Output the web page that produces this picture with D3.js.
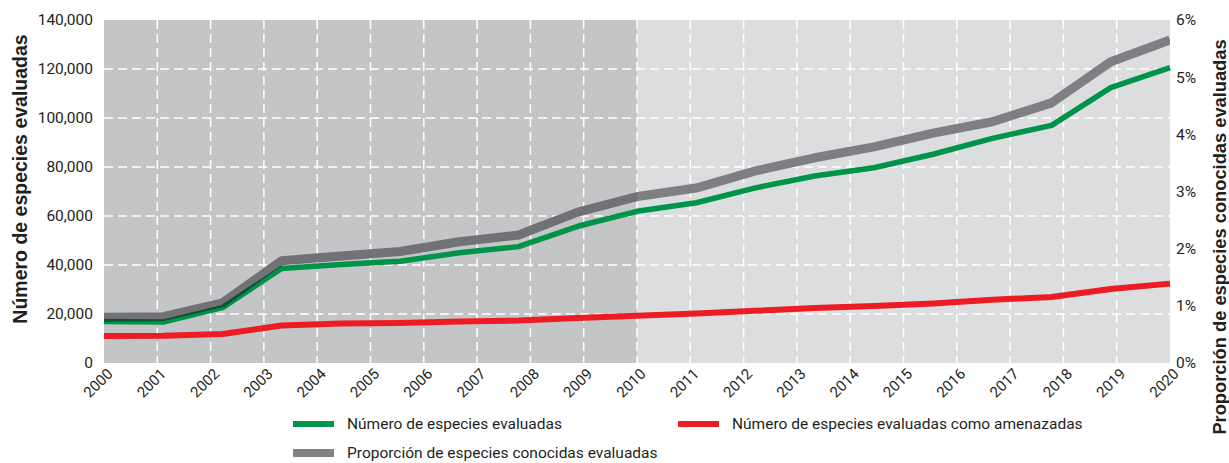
<!DOCTYPE html>
<html>
<head>
<meta charset="utf-8">
<script src="https://cdn.jsdelivr.net/npm/d3@7"></script>
<style>
  html, body { margin: 0; padding: 0; background: #ffffff; }
  svg { display: block; }
  text { fill: #231f20; }
</style>
</head>
<body>
<svg id="chart" width="1229" height="463"></svg>
<script>
// Axis ticks
const years = d3.range(2000, 2021);
const countTicks = [0, 20000, 40000, 60000, 80000, 100000, 120000, 140000];
const pctTicks = [0, 1, 2, 3, 4, 5, 6];

// Red List updates, 2000–2020 (evenly spaced along the time axis)
const updates = d3.range(19);
const assessed = [16900, 16700, 22600, 38600, 40200, 41500, 45000, 47500, 55800, 61900,
                  65400, 71500, 76300, 79700, 85200, 91700, 97000, 112400, 120600];
const threatened = [11000, 11100, 11800, 15300, 16100, 16300, 16900, 17300, 18400, 19300,
                    20200, 21300, 22400, 23300, 24300, 25800, 26900, 30200, 32400];
const proportion = [0.80, 0.81, 1.05, 1.79, 1.87, 1.95, 2.12, 2.24, 2.64, 2.91,
                    3.06, 3.36, 3.59, 3.78, 4.02, 4.22, 4.55, 5.27, 5.65];

// Shaded periods
const periods = [
  { from: 2000, to: 2010, fill: "#c4c5c7" },
  { from: 2010, to: 2020, fill: "#dcdddf" }
];

const legendItems = [
  { label: "Número de especies evaluadas", color: "#00944a", w: 6 },
  { label: "Número de especies evaluadas como amenazadas", color: "#ed1c24", w: 6 },
  { label: "Proporción de especies conocidas evaluadas", color: "#808285", w: 8 }
];

const svg = d3.select("#chart");
const m = { left: 104, right: 1170, top: 20, bottom: 363 };
const tickFont = "Roboto, 'Liberation Sans', sans-serif";
const titleFont = "'Liberation Sans', Arial, sans-serif";

const x = d3.scaleLinear().domain([2000, 2020]).range([m.left, m.right]);
const xs = d3.scalePoint().domain(updates).range([m.left, m.right]);
const y = d3.scaleLinear().domain([0, 140000]).range([m.bottom, m.top]);
const yp = d3.scaleLinear().domain([0, 6]).range([m.bottom, m.top]);

const defs = svg.append("defs");

// Background periods
svg.append("g").selectAll("rect").data(periods).join("rect")
  .attr("x", d => x(d.from)).attr("width", d => x(d.to) - x(d.from))
  .attr("y", m.top).attr("height", m.bottom - m.top)
  .attr("fill", d => d.fill);

periods.forEach((p, i) => {
  defs.append("clipPath").attr("id", "period" + i)
    .append("rect")
    .attr("x", x(p.from)).attr("width", x(p.to) - x(p.from))
    .attr("y", 0).attr("height", 463);
});

// Grid
const grid = svg.append("g")
  .attr("stroke", "#ffffff").attr("stroke-width", 1.5).attr("stroke-dasharray", "9,5");
grid.selectAll("line.v").data(years.filter(d => d > 2000 && d < 2020)).join("line")
  .attr("class", "v")
  .attr("x1", d => x(d)).attr("x2", d => x(d))
  .attr("y1", m.top).attr("y2", m.bottom);
grid.selectAll("line.h").data(countTicks.filter(d => d > 0 && d < 140000)).join("line")
  .attr("class", "h")
  .attr("x1", m.left).attr("x2", m.right)
  .attr("y1", d => y(d)).attr("y2", d => y(d));

// Series
const lineCount = d3.line().x((d, i) => xs(i)).y(d => y(d));
const linePct = d3.line().x((d, i) => xs(i)).y(d => yp(d));

svg.append("path").datum(threatened)
  .attr("d", lineCount).attr("fill", "none")
  .attr("stroke", "#ed1c24").attr("stroke-width", 6).attr("stroke-linejoin", "round");

svg.append("path").datum(assessed)
  .attr("d", lineCount).attr("fill", "none")
  .attr("stroke", "#00944a").attr("stroke-width", 5.5).attr("stroke-linejoin", "round");

// Proportion line: tone follows the shaded period beneath it
const grayTones = ["#717275", "#7e7f82"];
periods.forEach((p, i) => {
  svg.append("path").datum(proportion)
    .attr("d", linePct).attr("fill", "none")
    .attr("clip-path", `url(#period${i})`)
    .attr("stroke", grayTones[i]).attr("stroke-width", 9).attr("stroke-linejoin", "round");
});

// Where the proportion line overlaps the assessed line, the green darkens
const mask = defs.append("mask").attr("id", "grayMask").attr("maskUnits", "userSpaceOnUse")
  .attr("x", 0).attr("y", 0).attr("width", 1229).attr("height", 463);
mask.append("path").datum(proportion)
  .attr("d", linePct).attr("fill", "none")
  .attr("stroke", "#ffffff").attr("stroke-width", 9).attr("stroke-linejoin", "round");
svg.append("path").datum(assessed)
  .attr("d", lineCount).attr("fill", "none")
  .attr("mask", "url(#grayMask)")
  .attr("stroke", "#0a5530").attr("stroke-width", 5.5).attr("stroke-linejoin", "round");

// Left axis
const fmt = d3.format(",");
svg.append("g").selectAll("text").data(countTicks).join("text")
  .attr("x", 93).attr("y", d => y(d))
  .attr("dy", "0.35em").attr("text-anchor", "end")
  .style("font-family", tickFont).style("font-size", "15.5px")
  .text(d => fmt(d));

// Right axis
svg.append("g").selectAll("text").data(pctTicks).join("text")
  .attr("x", 1176).attr("y", d => yp(d))
  .attr("dy", "0.35em").attr("text-anchor", "start")
  .style("font-family", tickFont).style("font-size", "15.5px")
  .text(d => d + "%");

// Year labels
svg.append("g").selectAll("text").data(years).join("text")
  .attr("transform", d => `translate(${x(d) + 6},${m.bottom + 8}) rotate(-45)`)
  .attr("text-anchor", "end").attr("dy", "0.35em")
  .style("font-family", tickFont).style("font-size", "15px")
  .text(d => d);

// Axis titles
svg.append("text")
  .attr("transform", `translate(27,179) rotate(-90)`)
  .attr("text-anchor", "middle")
  .style("font-family", titleFont).style("font-size", "19.5px").style("font-weight", "bold")
  .text("Número de especies evaluadas");

svg.append("text")
  .attr("transform", `translate(1226,237) rotate(-90)`)
  .attr("text-anchor", "middle")
  .style("font-family", titleFont).style("font-size", "18.3px").style("font-weight", "bold")
  .text("Proporción de especies conocidas evaluadas");

// Legend
const legendPos = [[293, 424], [678, 424], [293, 453]];
const lg = svg.append("g").selectAll("g").data(legendItems).join("g")
  .attr("transform", (d, i) => `translate(${legendPos[i][0]},${legendPos[i][1]})`);
lg.append("line")
  .attr("x1", 0).attr("x2", 41).attr("y1", 0).attr("y2", 0)
  .attr("stroke", d => d.color).attr("stroke-width", d => d.w);
lg.append("text")
  .attr("x", 54).attr("y", 0).attr("dy", "0.35em")
  .style("font-family", tickFont).style("font-size", "15.5px")
  .text(d => d.label);
</script>
</body>
</html>
